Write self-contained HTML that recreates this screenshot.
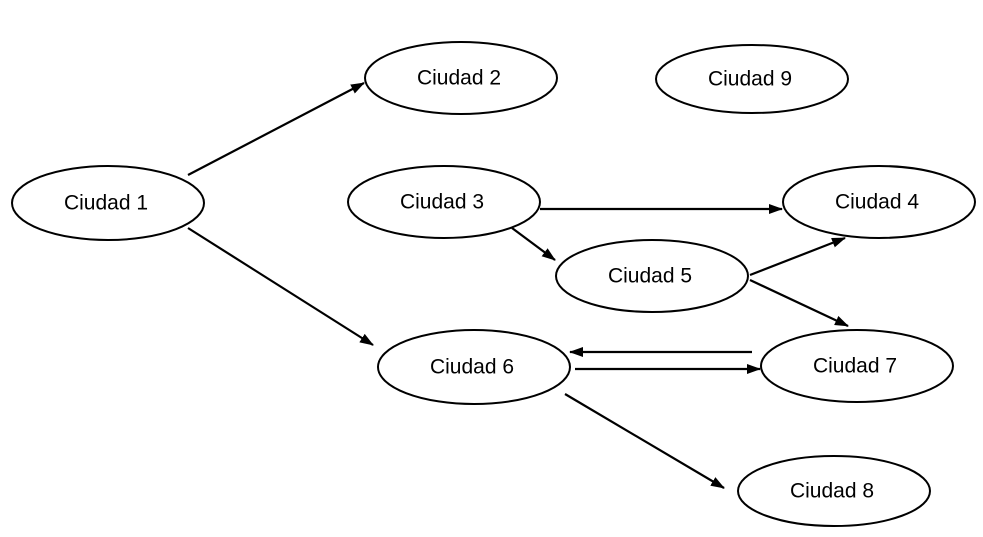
<!DOCTYPE html>
<html><head><meta charset="utf-8"><style>
html,body{margin:0;padding:0;background:#fff;}
svg{display:block;}
text{font-family:"Liberation Sans",sans-serif;font-size:21px;fill:#000;text-anchor:middle;dominant-baseline:central;}
</style></head><body>
<svg width="983" height="537" viewBox="0 0 983 537" xmlns="http://www.w3.org/2000/svg">
<defs><marker id="b" markerWidth="14" markerHeight="10" refX="13" refY="5" orient="auto" markerUnits="userSpaceOnUse"><path d="M0,0 L14,5 L0,10 z" fill="#000"/></marker></defs>
<g fill="#fff" stroke="#000" stroke-width="2">
<ellipse cx="108" cy="203" rx="96" ry="37"/>
<ellipse cx="461" cy="78" rx="96" ry="36"/>
<ellipse cx="752" cy="79" rx="96" ry="34"/>
<ellipse cx="444" cy="202" rx="96" ry="36"/>
<ellipse cx="879" cy="202" rx="96" ry="36"/>
<ellipse cx="652" cy="276" rx="96" ry="36"/>
<ellipse cx="474" cy="367" rx="96" ry="37"/>
<ellipse cx="857" cy="366" rx="96" ry="36"/>
<ellipse cx="834" cy="491" rx="96" ry="35"/>
</g>
<g stroke="#000" stroke-width="2.2" fill="none" marker-end="url(#b)">
<line x1="188" y1="175" x2="364" y2="83"/>
<line x1="188" y1="228" x2="373" y2="345"/>
<line x1="540" y1="209" x2="782" y2="209"/>
<line x1="512" y1="228" x2="555" y2="260"/>
<line x1="750" y1="275" x2="845" y2="238"/>
<line x1="750" y1="280" x2="848" y2="326"/>
<line x1="752" y1="352" x2="570" y2="352"/>
<line x1="575" y1="369" x2="760" y2="369"/>
<line x1="565" y1="394" x2="724" y2="488"/>
</g>
<text x="106" y="203">Ciudad 1</text>
<text x="459" y="78">Ciudad 2</text>
<text x="750" y="79">Ciudad 9</text>
<text x="442" y="202">Ciudad 3</text>
<text x="877" y="202">Ciudad 4</text>
<text x="650" y="276">Ciudad 5</text>
<text x="472" y="367">Ciudad 6</text>
<text x="855" y="366">Ciudad 7</text>
<text x="832" y="491">Ciudad 8</text>
</svg>
</body></html>
